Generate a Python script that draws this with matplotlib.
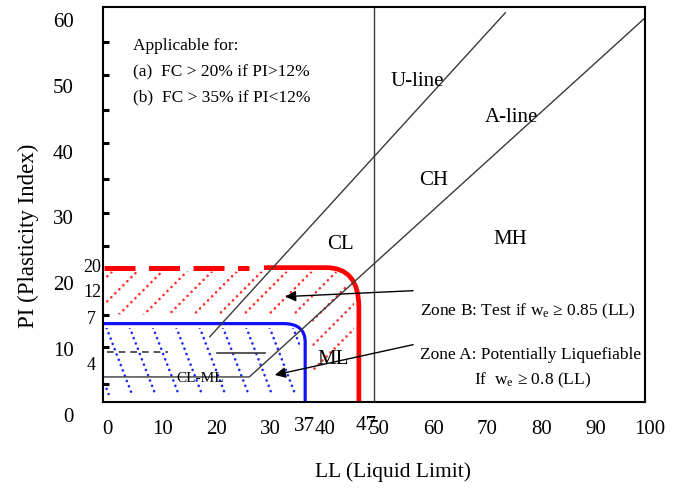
import numpy as np
import matplotlib
matplotlib.use('Agg')
import matplotlib.pyplot as plt
import matplotlib.transforms as mtrans
from matplotlib.path import Path
from matplotlib.patches import PathPatch, Polygon

plt.rcParams['font.family'] = ['Liberation Serif', 'DejaVu Serif']
plt.rcParams['mathtext.fontset'] = 'custom'
plt.rcParams['mathtext.rm'] = 'Liberation Serif'
plt.rcParams['mathtext.it'] = 'Liberation Serif:italic'

# ---- values ----
x_ticks = [0, 10, 20, 30, 40, 50, 60, 70, 80, 90, 100]
y_ticks = [0, 10, 20, 30, 40, 50, 60]
y_marks = [2.7, 8.4, 13.2, 23.7, 28.7, 33.9, 39.4, 44.4, 49.7, 54.7]

u_line_ll = [19.7, 74.2]
u_line_pi = [9.9, 59.1]
a_line_ll = [0, 27.0, 99.8]
a_line_pi = [3.8, 3.8, 58.2]
llmark_ll = 50
clml_dash_ll = [0.7, 12.0]
clml_dash_pi = [7.6, 7.6]
clml_top_ll = [21.0, 29.9]
clml_top_pi = [7.4, 7.4]

zone_a_ll = 37.3   # LL limit, zone A
zone_a_pi = 11.9   # PI limit, zone A
zone_b_ll = 47.2
zone_b_pi = 20.4

side_labels = ['20', '12', '7', '4']
side_label_pi = [20.4, 16.6, 12.5, 5.6]

# ---- figure ----
fig = plt.figure(figsize=(6.77, 4.92), dpi=100)
fig.set_facecolor('white')
ax = fig.add_axes([0.152, 0.183, 0.801, 0.803])
ax.set_xlim(0, 100)
ax.set_ylim(0, 60)

for s in ax.spines.values():
    s.set_linewidth(1.5)
    s.set_color('black')

ax.set_xticks(x_ticks)
ax.set_xticklabels([str(v) for v in x_ticks])
ax.set_yticks(y_ticks)
ax.set_yticklabels([str(v) for v in y_ticks])
ax.tick_params(axis='both', which='major', length=0, labelsize=15)
ax.tick_params(axis='x', pad=13)
ax.tick_params(axis='y', pad=21)
ax.set_yticks(y_marks, minor=True)
ax.tick_params(axis='y', which='minor', direction='in', length=4, width=2.2, color='black')
ax.xaxis.set_minor_locator(matplotlib.ticker.NullLocator())

dx = mtrans.ScaledTranslation(5/100, 0, fig.dpi_scale_trans)
for lab in ax.xaxis.get_majorticklabels():
    lab.set_transform(lab.get_transform() + dx)
dy = mtrans.ScaledTranslation(0, -13/100, fig.dpi_scale_trans)
for lab in ax.yaxis.get_majorticklabels():
    lab.set_transform(lab.get_transform() + dy)

# hatching (dotted), clipped to each zone
blue_clip = Polygon([(0.3, 1.0), (0.3, 11.2), (36.3, 11.2), (36.3, 1.0)],
                    closed=True, transform=ax.transData, visible=False)
red_clip = Polygon([(0.5, 13.3), (0.5, 19.8), (43, 19.8), (46.3, 16), (46.3, 1.0),
                    (38.6, 1.0), (38.6, 13.3)],
                   closed=True, transform=ax.transData, visible=False)
ax.add_patch(blue_clip)
ax.add_patch(red_clip)
xx = np.array([-20.0, 120.0])
for x0 in np.arange(-8, 45, 4.3):
    ln, = ax.plot(xx, 11.4 - 2.15*(xx - x0), color='#1a2aff', lw=1.9,
                  linestyle=(0, (0.05, 2.1)), dash_capstyle='round')
    ln.set_clip_path(blue_clip)
for x0 in np.arange(-20, 50, 4.6):
    ln, = ax.plot(xx, 13.3 + 0.824*(xx - x0), color='#ff2a2a', lw=1.9,
                  linestyle=(0, (0.05, 2.1)), dash_capstyle='round')
    ln.set_clip_path(red_clip)

# classification lines
lc = '#3a3a3a'
ax.plot(u_line_ll, u_line_pi, color=lc, lw=1)
ax.plot(a_line_ll, a_line_pi, color=lc, lw=1)
ax.axvline(llmark_ll, color=lc, lw=1)
ax.plot(clml_dash_ll, clml_dash_pi, color=lc, lw=1.2, linestyle=(0, (4, 3)))
ax.plot(clml_top_ll, clml_top_pi, color=lc, lw=1.2)

# zone A boundary (blue)
ra, rb = 4.0, 2.8
pa = Path([(0, zone_a_pi), (zone_a_ll - ra, zone_a_pi), (zone_a_ll, zone_a_pi),
           (zone_a_ll, zone_a_pi - rb), (zone_a_ll, 0)],
          [Path.MOVETO, Path.LINETO, Path.CURVE3, Path.CURVE3, Path.LINETO])
ax.add_patch(PathPatch(pa, fill=False, edgecolor='#1010ff', lw=2.3, clip_on=False))

# zone B boundary (red)
ax.plot([0.2, 26.9], [zone_b_pi, zone_b_pi], color='#ff0000', lw=3.6,
        dashes=(6.2, 2.7), solid_capstyle='butt')
rx, ry = 6.0, 6.0
pb = Path([(29.7, zone_b_pi), (zone_b_ll - rx, zone_b_pi), (zone_b_ll, zone_b_pi),
           (zone_b_ll, zone_b_pi - ry), (zone_b_ll, 0)],
          [Path.MOVETO, Path.LINETO, Path.CURVE3, Path.CURVE3, Path.LINETO])
ax.add_patch(PathPatch(pb, fill=False, edgecolor='#ff0000', lw=3.4, clip_on=False))

# arrows
arr = dict(arrowstyle='-|>', color='black', lw=1, mutation_scale=16, shrinkA=0, shrinkB=0)
ax.annotate('', xy=(33.6, 16.0), xytext=(57.2, 16.9), arrowprops=arr)
ax.annotate('', xy=(31.7, 4.1), xytext=(57.2, 8.7), arrowprops=arr)

# region labels
fs = 15
ax.text(53.0, 48.6, 'U-line', fontsize=fs, va='center')
ax.text(70.5, 43.2, 'A-line', fontsize=fs, va='center')
ax.text(58.3, 33.7, 'CH', fontsize=fs, va='center')
ax.text(72.0, 24.6, 'MH', fontsize=fs, va='center')
ax.text(41.3, 23.9, 'CL', fontsize=fs, va='center')
ax.text(39.5, 6.5, 'ML', fontsize=fs, va='center')
ax.text(17.9, 3.6, 'CL-ML', fontsize=11, va='center', ha='center')

fa = 12.5
ax.text(5.5, 54.0, 'Applicable for:', fontsize=fa, va='center')
ax.text(5.5, 50.0, '(a)  FC > 20% if PI>12%', fontsize=fa, va='center')
ax.text(5.5, 46.2, '(b)  FC > 35% if PI<12%', fontsize=fa, va='center')
ax.text(78.4, 13.7, 'Zone B: Test if w$_\\mathrm{e}$ \u2265 0.85 (LL)', fontsize=fa,
        va='center', ha='center')
ax.text(78.8, 7.1, 'Zone A: Potentially Liquefiable', fontsize=fa, va='center', ha='center')
ax.text(79.2, 3.3, 'If  w$_\\mathrm{e}$ \u2265 0.8 (LL)', fontsize=fa, va='center', ha='center')

# labels beside the axis
for lab, yv in zip(side_labels, side_label_pi):
    off = -1 if len(lab) == 2 else -5
    ax.annotate(lab, xy=(0, yv), xycoords='data', xytext=(off, 0),
                textcoords='offset points', ha='right', va='center', fontsize=13,
                annotation_clip=False)
ax.annotate('37', xy=(37.1, 0), xytext=(0, -18), textcoords='offset points',
            ha='center', va='center', fontsize=15, annotation_clip=False)
ax.annotate('47', xy=(48.5, 0), xytext=(0, -17), textcoords='offset points',
            ha='center', va='center', fontsize=15, annotation_clip=False)

fig.text(393/677, 1 - 472/492, 'LL (Liquid Limit)', fontsize=15.5, ha='center', va='center')
fig.text(28/677, 1 - 236/492, 'PI (Plasticity Index)', fontsize=16.5, rotation=90,
         ha='center', va='center')

fig.savefig('out.png', dpi=100)
